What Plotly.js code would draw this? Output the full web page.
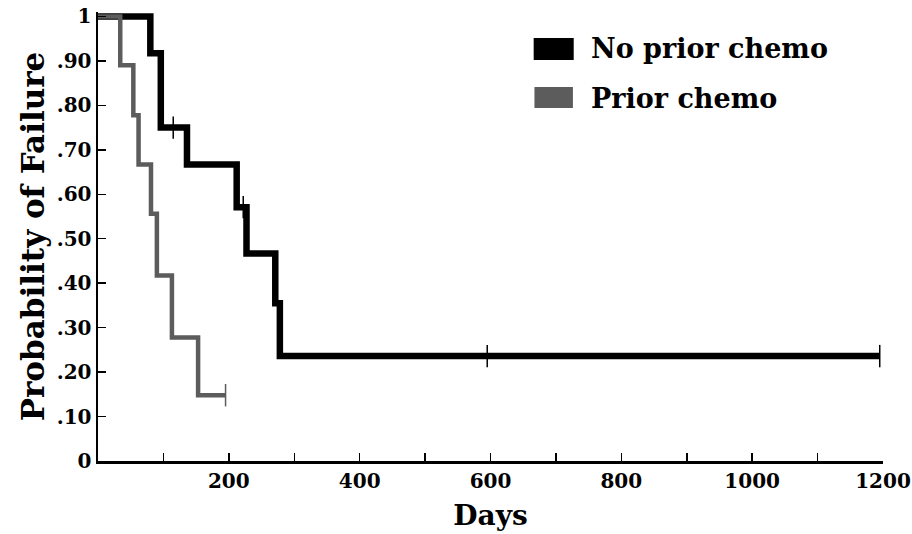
<!DOCTYPE html>
<html>
<head>
<meta charset="utf-8">
<script src="https://cdn.plot.ly/plotly-3.0.1.min.js"></script>
<style>html,body{margin:0;padding:0;background:#fff;}#chart{width:912px;height:534px;}</style>
</head>
<body>
<div id="chart"></div>
<script>
// Kaplan-Meier style step data (days, probability of failure)
const noPriorDays   = [0, 80, 96, 136, 212, 227, 271, 278, 1195];
const noPriorProb   = [1, 0.917, 0.75, 0.667, 0.571, 0.467, 0.355, 0.236, 0.236];
const priorDays     = [0, 34, 54, 62, 81, 90, 113, 153, 195];
const priorProb     = [1, 0.89, 0.778, 0.667, 0.556, 0.417, 0.278, 0.148, 0.148];
// censored observations
const noPriorCensorDays = [115, 222, 595, 1195];
const noPriorCensorProb = [0.75, 0.571, 0.236, 0.236];
const priorCensorDays = [195];
const priorCensorProb = [0.148];
// tick labels
const xTickVals = [100,200,300,400,500,600,700,800,900,1000,1100,1200];
const xTickText = ['', '200', '', '400', '', '600', '', '800', '', '1000', '', '1200'];
const yTickVals = [0,0.1,0.2,0.3,0.4,0.5,0.6,0.7,0.8,0.9,1];
const yTickText = ['0','.10','.20','.30','.40','.50','.60','.70','.80','.90','1'];
const seriesNames = ['No prior chemo', 'Prior chemo'];

const FONT = 'DejaVu Serif, Liberation Serif, serif';
const BLACK = '#000000';
const GRAY = '#5c5c5c';

const traces = [
  {x: noPriorDays, y: noPriorProb, type: 'scatter', mode: 'lines', name: seriesNames[0],
   line: {shape: 'hv', color: BLACK, width: 6.5}},
  {x: noPriorCensorDays, y: noPriorCensorProb, type: 'scatter', mode: 'markers', showlegend: false,
   marker: {symbol: 'line-ns', size: 16, line: {color: BLACK, width: 1.5}}},
  {x: priorDays, y: priorProb, type: 'scatter', mode: 'lines', name: seriesNames[1],
   line: {shape: 'hv', color: GRAY, width: 4.5}},
  {x: priorCensorDays, y: priorCensorProb, type: 'scatter', mode: 'markers', showlegend: false,
   marker: {symbol: 'line-ns', size: 16, line: {color: GRAY, width: 1.5}}}
];

const layout = {
  width: 912, height: 534,
  margin: {l: 98, r: 29, t: 12, b: 73},
  paper_bgcolor: '#fff', plot_bgcolor: '#fff',
  showlegend: false,
  font: {family: FONT, color: BLACK},
  xaxis: {
    range: [0, 1200], tickvals: xTickVals, ticktext: xTickText,
    ticks: 'inside', ticklen: 8, tickwidth: 1.5, tickcolor: BLACK,
    showline: true, linewidth: 2.5, linecolor: BLACK,
    showgrid: false, zeroline: false,
    tickfont: {family: FONT, size: 20, color: BLACK, weight: 'bold'},
    title: {text: '<b>Days</b>', font: {family: FONT, size: 28, color: BLACK}, standoff: 14}
  },
  yaxis: {
    range: [0, 1.01], tickvals: yTickVals, ticktext: yTickText,
    ticks: 'inside', ticklen: 8, tickwidth: 1.5, tickcolor: BLACK,
    showline: true, linewidth: 2.5, linecolor: BLACK,
    showgrid: false, zeroline: false,
    tickfont: {family: FONT, size: 20, color: BLACK, weight: 'bold'},
    title: {text: '<b>Probability of Failure</b>', font: {family: FONT, size: 31, color: BLACK}, standoff: 3}
  },
  shapes: [
    {type: 'rect', xref: 'paper', yref: 'paper', x0: 0.555, x1: 0.606, y0: 0.893, y1: 0.942,
     fillcolor: BLACK, line: {width: 0}},
    {type: 'rect', xref: 'paper', yref: 'paper', x0: 0.556, x1: 0.605, y0: 0.786, y1: 0.833,
     fillcolor: GRAY, line: {width: 0}}
  ],
  annotations: [
    {xref: 'paper', yref: 'paper', x: 0.625, y: 0.918, xanchor: 'left', yanchor: 'middle',
     text: '<b>' + seriesNames[0] + '</b>', showarrow: false, font: {family: FONT, size: 27, color: BLACK}},
    {xref: 'paper', yref: 'paper', x: 0.625, y: 0.808, xanchor: 'left', yanchor: 'middle',
     text: '<b>' + seriesNames[1] + '</b>', showarrow: false, font: {family: FONT, size: 27, color: BLACK}}
  ]
};

Plotly.newPlot('chart', traces, layout, {displayModeBar: false, staticPlot: true});
</script>
</body>
</html>
